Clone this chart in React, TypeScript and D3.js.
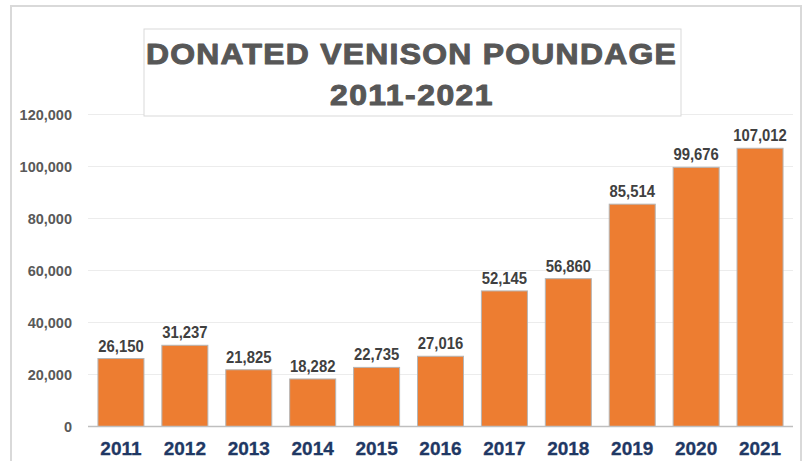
import React from "react";
import * as d3 from "d3";

const years = ["2011", "2012", "2013", "2014", "2015", "2016", "2017", "2018", "2019", "2020", "2021"];
const pounds = [26150, 31237, 21825, 18282, 22735, 27016, 52145, 56860, 85514, 99676, 107012];
const yTicks = [0, 20000, 40000, 60000, 80000, 100000, 120000];
const titleLines = ["DONATED VENISON POUNDAGE", "2011-2021"];

const W = 807;
const H = 461;

export default function App() {
  const x = d3.scaleBand<string>().domain(years).range([89, 792]).paddingInner(0.28).paddingOuter(0.14);
  const y = d3.scaleLinear().domain([0, 120000]).range([426.5, 114.5]);
  const fmt = d3.format(",");
  const font = "'Liberation Sans', Arial, sans-serif";

  return (
    <svg width={W} height={H} style={{ position: "absolute", left: 0, top: 0, background: "#fff" }} fontFamily={font}>
      <rect x={0} y={0} width={W} height={H} fill="#fff" />
      <rect x={11} y={6} width={790} height={480} fill="#fff" stroke="#d9d9d9" strokeWidth={2} />
      {yTicks.map((t) => (
        <g key={t}>
          {t > 0 && <line x1={88} x2={793} y1={y(t)} y2={y(t)} stroke="#ececec" strokeWidth={1} />}
          <text x={72} y={y(t) + 5} textAnchor="end" fontSize={14.5} fontWeight="bold" fill="#595959">
            {fmt(t)}
          </text>
        </g>
      ))}
      <rect x={144} y={29} width={537} height={87} fill="#fff" stroke="#d9d9d9" strokeWidth={1} />
      <g transform="translate(411.5,63.5) scale(1.08,1)">
        <text x={0} y={0} textAnchor="middle" fontSize={29.5} fontWeight="bold" fill="#575757" stroke="#575757" strokeWidth={1.0} strokeLinejoin="round" letterSpacing={1.2}>
          {titleLines[0]}
        </text>
      </g>
      <g transform="translate(412,105) scale(1.08,1)">
        <text x={0} y={0} textAnchor="middle" fontSize={29.5} fontWeight="bold" fill="#575757" stroke="#575757" strokeWidth={1.0} strokeLinejoin="round" letterSpacing={1.4}>
          {titleLines[1]}
        </text>
      </g>
      {years.map((yr, i) => {
        const bx = x(yr) as number;
        const bw = x.bandwidth();
        const top = y(pounds[i]);
        const cx = bx + bw / 2;
        return (
          <g key={yr}>
            <rect x={bx} y={top} width={bw} height={y(0) - top} fill="#ED7D31" stroke="#b5b5b5" strokeWidth={1} />
            <text transform={`translate(${cx},${top - 7}) scale(0.9,1)`} textAnchor="middle" fontSize={16.5} fontWeight="bold" fill="#404040">
              {fmt(pounds[i])}
            </text>
            <text x={cx} y={455} textAnchor="middle" fontSize={19} fontWeight="bold" fill="#1F3864" stroke="#1F3864" strokeWidth={0.3}>
              {yr}
            </text>
          </g>
        );
      })}
      <line x1={88} x2={793} y1={y(0)} y2={y(0)} stroke="#bfbfbf" strokeWidth={1.5} />
    </svg>
  );
}
